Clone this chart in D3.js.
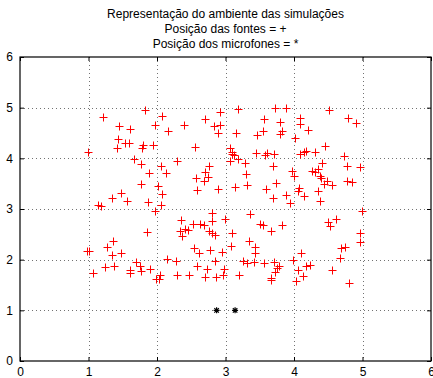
<!DOCTYPE html>
<html>
<head>
<meta charset="utf-8">
<script src="https://cdn.jsdelivr.net/npm/d3@7"></script>
<style>
  body { margin: 0; background: #fff; }
  svg { font-family: "Liberation Sans", Arial, sans-serif; }
</style>
</head>
<body>
<div id="chart"></div>
<script>
// source positions (+)
var srcX = [1.83,1.21,2.07,1.45,1.61,1.97,2.16,1.43,1.54,1.59,1.80,1.42,1.78,1.94,0.99,1.66,1.77,2.06,2.29,1.89,2.13,1.76,2.02,1.47,2.07,
  2.92,3.18,3.72,2.70,3.56,2.39,2.83,2.92,2.89,3.16,3.46,3.55,2.56,3.07,3.10,3.13,3.09,3.18,3.06,3.45,3.58,3.61,3.71,3.29,3.69,2.76,2.70,2.75,2.57,2.69,3.30,3.32,3.14,3.59,2.59,2.89,
  3.88,4.51,4.09,4.79,4.91,3.79,4.09,4.21,3.83,3.79,4.02,4.45,4.09,4.14,4.18,4.31,4.73,4.41,4.77,4.96,3.97,4.00,4.27,4.31,4.35,4.38,4.40,4.48,4.55,4.44,4.78,4.84,3.74,4.06,4.08,4.35,3.89,
  1.35,1.56,1.87,2.06,1.14,1.18,1.97,2.35,1.86,2.33,1.36,1.27,1.01,0.98,1.35,1.47,2.15,2.28,1.70,1.75,1.24,1.37,1.90,1.60,1.61,1.76,1.07,2.04,1.99,2.03,2.29,
  3.70,2.81,3.36,2.80,2.99,2.52,2.63,2.68,3.50,3.55,3.66,2.41,2.45,2.36,2.76,2.80,2.85,3.09,3.35,3.43,3.43,3.08,2.54,2.62,2.77,2.95,2.85,3.25,3.32,3.42,3.56,3.71,2.58,2.73,2.98,2.97,2.47,2.70,2.86,3.19,3.67,3.66,3.72,
  4.15,3.94,4.38,4.99,3.82,4.49,4.53,4.61,4.96,4.96,4.68,4.74,4.10,4.67,3.98,3.78,3.75,4.06,4.17,4.24,4.56,4.13,4.03,4.80];
var srcY = [4.96,4.81,4.84,4.63,4.58,4.66,4.53,4.39,4.31,4.31,4.27,4.20,4.20,4.27,4.13,3.99,3.89,3.85,3.94,3.72,3.71,3.49,3.46,3.32,3.30,
  4.91,4.98,5.00,4.77,4.77,4.65,4.63,4.65,4.50,4.50,4.46,4.54,4.23,4.21,4.12,4.07,4.08,3.99,3.94,4.10,4.07,4.10,4.08,3.91,3.85,3.84,3.74,3.64,3.61,3.56,3.69,3.48,3.44,3.40,3.38,3.39,
  5.00,4.96,4.80,4.79,4.69,4.71,4.67,4.56,4.53,4.48,4.41,4.25,4.08,4.12,4.15,4.12,4.05,3.91,3.84,3.82,3.75,3.65,3.75,3.74,3.79,3.66,3.61,3.56,3.48,3.49,3.56,3.54,3.52,3.36,3.41,3.36,3.27,
  3.22,3.15,3.14,3.08,3.07,3.05,2.97,2.78,2.55,2.56,2.37,2.25,2.18,2.18,2.09,2.14,2.02,1.97,1.95,1.88,1.86,1.87,1.82,1.79,1.74,1.77,1.74,1.70,1.62,1.61,1.69,
  3.22,2.92,2.91,2.77,2.80,2.70,2.70,2.69,2.70,2.69,2.56,2.60,2.58,2.46,2.57,2.53,2.49,2.53,2.36,2.25,2.14,2.26,2.24,2.14,2.20,2.16,1.98,1.98,1.93,1.95,1.93,1.95,1.87,1.82,1.82,1.69,1.70,1.66,1.65,1.69,1.64,1.59,1.75,
  3.26,3.12,3.15,2.97,2.68,2.74,2.67,2.80,2.53,2.34,2.24,2.25,2.13,2.03,1.99,1.88,1.84,1.80,1.88,1.90,1.80,1.68,1.57,1.54];
// microphone positions (*)
var micX = [2.87, 3.14];
var micY = [1, 1];
var xTicks = [0, 1, 2, 3, 4, 5, 6];
var yTicks = [0, 1, 2, 3, 4, 5, 6];
var titleLines = ['Representação do ambiente das simulações', 'Posição das fontes = +', 'Posição dos microfones = *'];

var width = 433, height = 378;
var plotLeft = 20, plotRight = 431, plotTop = 57, plotBottom = 361;

var svg = d3.select('#chart').append('svg')
  .attr('width', width)
  .attr('height', height);

var x = d3.scaleLinear().domain([0, 6]).range([plotLeft, plotRight]);
var y = d3.scaleLinear().domain([0, 6]).range([plotBottom, plotTop]);

//Grid
var grid = svg.append('g').attr('stroke', '#000').attr('stroke-width', 1)
  .attr('stroke-dasharray', '1,3').attr('opacity', 0.55);
grid.selectAll('.gx').data(xTicks.slice(1, -1)).enter().append('line')
  .attr('x1', d => Math.round(x(d)) + 0.5).attr('x2', d => Math.round(x(d)) + 0.5)
  .attr('y1', plotTop).attr('y2', plotBottom);
grid.selectAll('.gy').data(yTicks.slice(1, -1)).enter().append('line')
  .attr('y1', d => Math.round(y(d)) + 0.5).attr('y2', d => Math.round(y(d)) + 0.5)
  .attr('x1', plotLeft).attr('x2', plotRight);

//Axes (ticks inward)
var fmt = d3.format('d');
var xAxis = d3.axisBottom(x).tickValues(xTicks).tickSize(-4).tickPadding(6).tickFormat(fmt);
var yAxis = d3.axisLeft(y).tickValues(yTicks).tickSize(-4).tickPadding(7).tickFormat(fmt);
svg.append('g').attr('transform', 'translate(0,' + plotBottom + ')').call(xAxis);
svg.append('g').attr('transform', 'translate(' + plotLeft + ',0)').call(yAxis);
svg.append('g').attr('transform', 'translate(0,' + plotTop + ')')
  .call(d3.axisTop(x).tickValues(xTicks).tickSize(-4).tickFormat(''));
svg.append('g').attr('transform', 'translate(' + plotRight + ',0)')
  .call(d3.axisRight(y).tickValues(yTicks).tickSize(-4).tickFormat(''));
svg.selectAll('.domain').remove();
svg.selectAll('.tick line').attr('stroke', '#000');
svg.selectAll('.tick text').attr('fill', '#000').style('font-size', '12px')
  .style('font-family', '"Liberation Sans", Arial, sans-serif');

svg.append('rect')
  .attr('x', plotLeft).attr('y', plotTop)
  .attr('width', plotRight - plotLeft).attr('height', plotBottom - plotTop)
  .attr('fill', 'none').attr('stroke', '#000').attr('stroke-width', 1.2);

//Sources
svg.append('g').selectAll('path')
  .data(srcX.map((d, i) => [d, srcY[i]]))
  .enter().append('path')
  .attr('d', d => {
    var px = Math.round(x(d[0])) + 0.5, py = Math.round(y(d[1])) + 0.5;
    return 'M' + (px - 4) + ',' + py + 'H' + (px + 4) + 'M' + px + ',' + (py - 4) + 'V' + (py + 4);
  })
  .attr('stroke', '#f00').attr('stroke-width', 1).attr('fill', 'none');

//Microphones
svg.append('g').selectAll('path')
  .data(micX.map((d, i) => [d, micY[i]]))
  .enter().append('path')
  .attr('d', d => {
    var px = x(d[0]), py = y(d[1]), r = 3;
    return 'M' + (px - r) + ',' + py + 'H' + (px + r) + 'M' + px + ',' + (py - r) + 'V' + (py + r) +
      'M' + (px - r * 0.75) + ',' + (py - r * 0.75) + 'L' + (px + r * 0.75) + ',' + (py + r * 0.75) +
      'M' + (px - r * 0.75) + ',' + (py + r * 0.75) + 'L' + (px + r * 0.75) + ',' + (py - r * 0.75);
  })
  .attr('stroke', '#000').attr('stroke-width', 1.2).attr('fill', 'none');

//Title
svg.append('g').selectAll('text')
  .data(titleLines).enter().append('text')
  .attr('x', (plotLeft + plotRight) / 2)
  .attr('y', (d, i) => 18 + i * 15)
  .attr('text-anchor', 'middle')
  .style('font-size', '12px')
  .text(d => d);
</script>
</body>
</html>
